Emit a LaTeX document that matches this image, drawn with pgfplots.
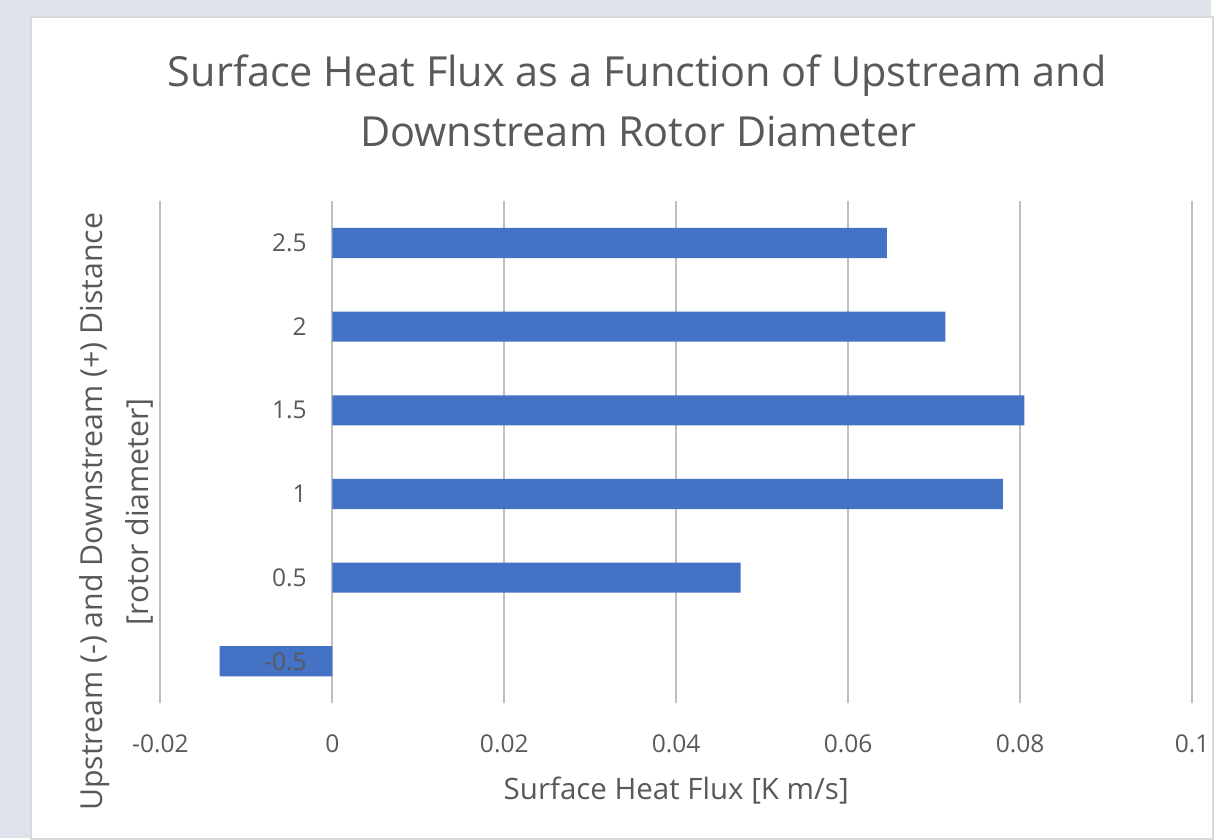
\documentclass[border=0pt]{standalone}
\usepackage{pgfplots}
\pgfplotsset{compat=1.18}
\usepackage{fontspec}
\setmainfont{Open Sans}
\definecolor{barblue}{HTML}{4472C4}
\definecolor{txt}{HTML}{595959}
\definecolor{grid}{HTML}{D9D9D9}
\definecolor{outer}{HTML}{DEE2EB}
\pgfplotsset{
  layers/mine/.define layer set={
    axis background,axis grid,axis ticks,axis lines,pre main,main,
    axis tick labels,axis descriptions,axis foreground
  }{
    grid style={/pgfplots/on layer=axis grid},
    tick style={/pgfplots/on layer=axis ticks},
    axis line style={/pgfplots/on layer=axis lines},
    label style={/pgfplots/on layer=axis descriptions},
    legend style={/pgfplots/on layer=axis descriptions},
    title style={/pgfplots/on layer=axis descriptions},
    colorbar style={/pgfplots/on layer=axis descriptions},
    ticklabel style={/pgfplots/on layer=axis tick labels},
    axis background@ style={/pgfplots/on layer=axis background},
    3d box foreground style={/pgfplots/on layer=axis foreground},
  },
}
\begin{document}
\begin{tikzpicture}
\begin{axis}[
  set layers=mine,
  at={(80.5pt,-353pt)}, anchor=south west,
  scale only axis, width=518pt, height=252pt,
  xbar, bar width=0.36,
  xmin=-0.02, xmax=0.1, xtick={-0.02,0,0.02,0.04,0.06,0.08,0.1},
  xticklabels={-0.02,0,0.02,0.04,0.06,0.08,0.1},
  ymin=-0.5, ymax=5.5, ytick={0,1,2,3,4,5},
  yticklabels={-0.5,0.5,1,1.5,2,2.5},
  axis line style={draw=none}, major tick length=0pt,
  xmajorgrids, grid style={grid, line width=1pt},
  ymajorgrids=false,
  ticklabel style={text=txt,font=\fontsize{12.3}{14}\selectfont},
  xticklabel style={yshift=-12.5pt},
  yticklabel style={anchor=east, xshift=77pt},
  xlabel={Surface Heat Flux [K m/s]},
  xlabel style={text=txt,font=\fontsize{14.8}{17}\selectfont, yshift=-5pt},
  /pgf/number format/assume math mode=true,
  clip=false,
]
\addplot[fill=barblue, draw=none] coordinates {
(-0.0131,0) (0.0475,1) (0.0780,2) (0.0805,3) (0.0713,4) (0.0645,5)};
\end{axis}
\begin{pgfonlayer}{axis background}
% background (1 px = 0.5pt, origin top-left)
\fill[outer] (0,0) rectangle (608pt,-420.5pt);
\fill[white,draw=grid,line width=1pt] (15.5pt,-8.5pt) rectangle (609pt,-421pt);
\end{pgfonlayer}
\node[text=txt,font=\fontsize{20.8}{24}\selectfont] at (320pt,-38pt) {Surface Heat Flux as a Function of Upstream and};
\node[text=txt,font=\fontsize{20.8}{24}\selectfont] at (320.5pt,-66pt) {Downstream Rotor Diameter};
\node[text=txt,font=\fontsize{15.2}{18}\selectfont,rotate=90] at (47.5pt,-257pt) {Upstream (-) and Downstream (+) Distance};
\node[text=txt,font=\fontsize{15.2}{18}\selectfont,rotate=90] at (70pt,-257pt) {[rotor diameter]};
\end{tikzpicture}
\end{document}
